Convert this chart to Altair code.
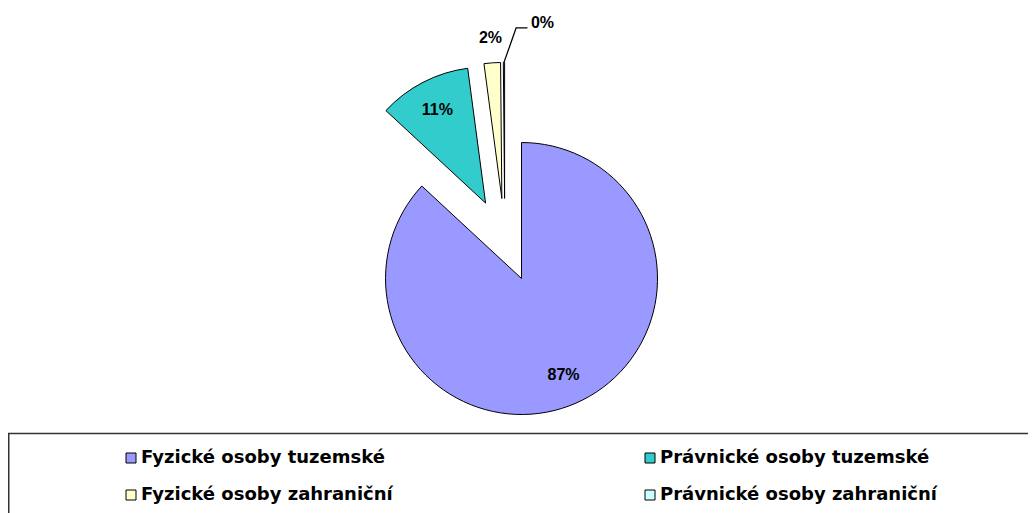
import math
import altair as alt
import pandas as pd

# ---- data ----
categories = [
    "Fyzické osoby tuzemské",
    "Právnické osoby tuzemské",
    "Fyzické osoby zahraniční",
    "Právnické osoby zahraniční",
]
shares = [86.9, 11.0, 1.95, 0.15]
colors = ["#9999FF", "#33CCCC", "#FFFFCC", "#CCFFFF"]

# ---- layout constants (pixels, plot coordinates) ----
CX, CY = 496.8, 232.2      # pie centre before explosion
R = 136                    # pie radius
EXPLODE = 41.8             # explosion distance of every slice
INNER_LABEL_R, OUTER_LABEL_R = 105, 161

total = sum(shares)
rows = []
cum = 0.0
for i, (c, v) in enumerate(zip(categories, shares)):
    pct = v / total * 100
    start, end = cum, cum + pct
    mid = (start + end) / 2
    a = mid / 100 * 2 * math.pi
    rows.append(dict(
        cat=c, idx=i, start=start, end=end, mid=mid,
        cx=CX + EXPLODE * math.sin(a), cy=CY - EXPLODE * math.cos(a),
        ang=a, label=f"{round(pct)}%",
        lr=INNER_LABEL_R if pct >= 5 else OUTER_LABEL_R,
        tiny=bool(pct < 1),
    ))
    cum = end
df = pd.DataFrame(rows)

# leader line for the tiny slice
t = df[df.tiny].iloc[0]
p0 = (t.cx + R * math.sin(t.ang), t.cy - R * math.cos(t.ang))
p1 = (p0[0] + 12.2, p0[1] - 34.5)
p2 = (p1[0] + 11.3, p1[1])
leader = pd.DataFrame({"px": [p0[0], p1[0], p2[0]], "py": [p0[1], p1[1], p2[1]], "o": [0, 1, 2]})
tiny_lab = pd.DataFrame({"px": [p2[0] + 3.5], "py": [p2[1] - 5], "label": [t.label]})

theta_scale = alt.Scale(domain=[0, 100], range=[0, 2 * math.pi])
xpix = alt.X("cx:Q", scale=None, axis=None)
ypix = alt.Y("cy:Q", scale=None, axis=None)

box = alt.Chart(pd.DataFrame({"k": [0]})).mark_rect(
    fillOpacity=0, stroke="#333333", strokeWidth=1.5
).encode(x=alt.value(0.75), x2=alt.value(1100), y=alt.value(425.5), y2=alt.value(700))

arcs = alt.Chart(df).mark_arc(radius=R, stroke="black", strokeWidth=1).encode(
    x=xpix, y=ypix,
    theta=alt.Theta("start:Q", scale=theta_scale),
    theta2="end:Q",
    color=alt.Color(
        "cat:N",
        scale=alt.Scale(domain=categories, range=colors),
        legend=alt.Legend(
            title=None, orient="none", legendX=114, legendY=441,
            direction="horizontal", columns=2, columnPadding=248, rowPadding=19,
            symbolType="square", symbolSize=100, symbolStrokeColor="black",
            symbolStrokeWidth=1, labelFont="DejaVu Sans", labelFontWeight="bold",
            labelFontSize=18, labelColor="black", labelOffset=1, padding=0,
            labelLimit=400,
        ),
    ),
)

labels = alt.Chart(df).transform_filter("datum.tiny == false").mark_text(
    font="Liberation Sans", fontWeight="bold", fontSize=16, color="black"
).encode(
    x=xpix, y=ypix,
    theta=alt.Theta("mid:Q", scale=theta_scale),
    radius=alt.Radius("lr:Q", scale=None),
    text="label:N",
)

lead = alt.Chart(leader).mark_line(color="black", strokeWidth=1.3).encode(
    x=alt.X("px:Q", scale=None, axis=None),
    y=alt.Y("py:Q", scale=None, axis=None),
    order="o:Q",
)

tlab = alt.Chart(tiny_lab).mark_text(
    font="Liberation Sans", fontWeight="bold", fontSize=16, color="black", align="left"
).encode(
    x=alt.X("px:Q", scale=None, axis=None),
    y=alt.Y("py:Q", scale=None, axis=None),
    text="label:N",
)

chart = alt.layer(box, arcs, labels, lead, tlab).properties(
    width=1020, height=505, padding=0,
    autosize=alt.AutoSizeParams(type="none"),
).configure_view(strokeWidth=0)

chart.save("out.html", embed_options={"renderer": "svg", "actions": False})
